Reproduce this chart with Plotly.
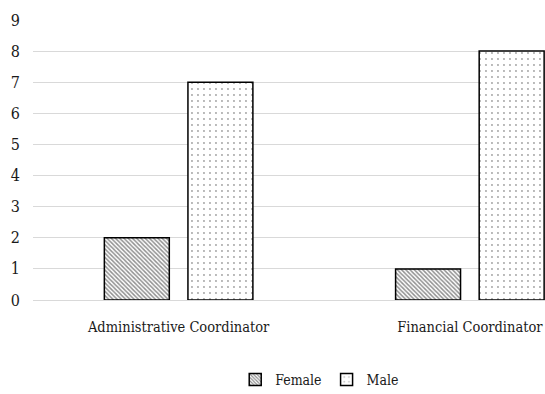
import plotly.graph_objects as go

categories = ["Administrative Coordinator", "Financial Coordinator"]
female = [2, 1]
male = [7, 8]
y_ticks = [0, 1, 2, 3, 4, 5, 6, 7, 8, 9]

font_family = "DejaVu Serif Condensed"

fig = go.Figure()
fig.add_trace(go.Bar(
    name="Female", x=categories, y=female,
    marker=dict(color="white", line=dict(color="black", width=1.5),
                pattern=dict(shape="\\", size=3, solidity=0.5,
                             fgcolor="#222222", bgcolor="white")),
))
fig.add_trace(go.Bar(
    name="Male", x=categories, y=male,
    marker=dict(color="white", line=dict(color="black", width=1.5),
                pattern=dict(shape=".", size=6, solidity=0.08,
                             fgcolor="#444444", bgcolor="white")),
))

fig.update_layout(
    width=545, height=394,
    margin=dict(l=33, r=0, t=20, b=94, autoexpand=False),
    paper_bgcolor="white", plot_bgcolor="white",
    barmode="group", bargap=0.426, bargroupgap=0.223,
    font=dict(family=font_family, size=15, color="#1a1a1a"),
    showlegend=True,
    legend=dict(orientation="h", x=0.56, xanchor="center", y=-0.285, yanchor="middle",
                font=dict(family=font_family, size=14), itemwidth=30,
                traceorder="normal", tracegroupgap=0),
    xaxis=dict(range=[-0.5, 1.258], showgrid=False, showline=False, ticks="",
               automargin=False, ticklabelstandoff=16,
               tickfont=dict(family=font_family, size=14.5)),
    yaxis=dict(range=[0, 9], tickvals=y_ticks, showgrid=True, gridcolor="#d9d9d9",
               gridwidth=1, zeroline=True, zerolinecolor="#d9d9d9", zerolinewidth=1,
               showline=False, ticks="", automargin=False, ticklabelstandoff=12,
               tickfont=dict(family=font_family, size=16)),
)

fig.write_html("out.html")
